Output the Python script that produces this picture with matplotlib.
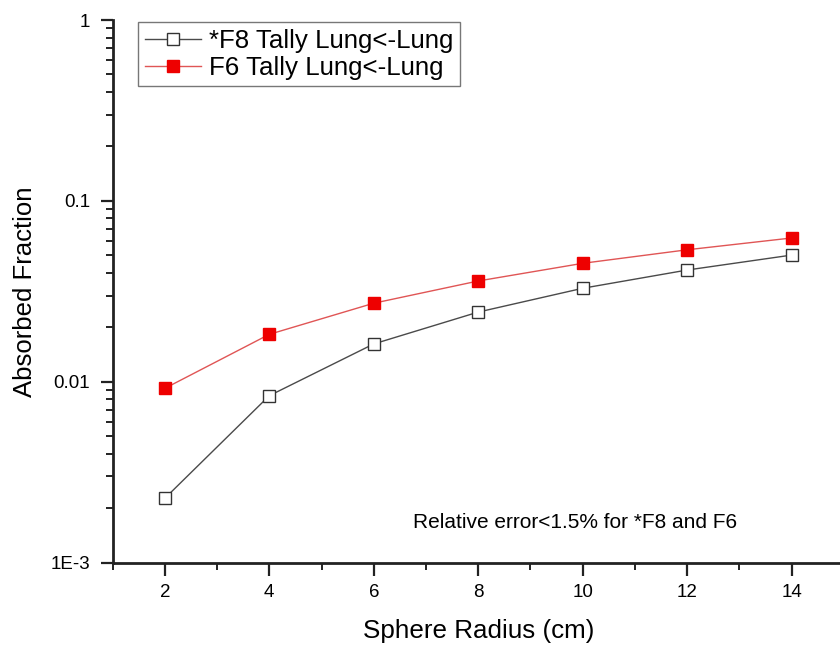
import numpy as np
import matplotlib
matplotlib.use("Agg")
from matplotlib import pyplot as plt
from matplotlib.ticker import FixedLocator, LogLocator, NullFormatter

plt.rcParams['font.family'] = ['Liberation Sans', 'DejaVu Sans']

radius = [2, 4, 6, 8, 10, 12, 14]
f8_lung = [0.00227, 0.00838, 0.0162, 0.0243, 0.0329, 0.0415, 0.0502]
f6_lung = [0.0092, 0.0183, 0.0272, 0.0361, 0.0452, 0.0537, 0.0624]
ytick_vals = [0.001, 0.01, 0.1, 1]
ytick_text = ['1E-3', '0.01', '0.1', '1']

fig = plt.figure(figsize=(8.4, 6.48), dpi=100)
ax = fig.add_axes([0.134, 0.1316, 0.8707, 0.8375])

ax.plot(radius, f8_lung, color='#4a4a4a', lw=1.0, marker='s', ms=8,
        mfc='white', mec='#333333', mew=1.0, label='*F8 Tally Lung<-Lung')
ax.plot(radius, f6_lung, color='#e05555', lw=1.0, marker='s', ms=8,
        mfc='#ee0000', mec='#ee0000', mew=1.0, label='F6 Tally Lung<-Lung')

ax.set_yscale('log')
ax.set_ylim(0.001, 1)
ax.set_xlim(1, 15)
ax.yaxis.set_major_locator(FixedLocator(ytick_vals))
ax.set_yticklabels(ytick_text)
ax.yaxis.set_minor_locator(LogLocator(base=10, subs=np.arange(2, 10)))
ax.yaxis.set_minor_formatter(NullFormatter())
ax.set_xticks(radius)
ax.set_xticks(np.arange(1, 16, 2), minor=True)

for s in ['top', 'right']:
    ax.spines[s].set_visible(False)
for s in ['left', 'bottom']:
    ax.spines[s].set_linewidth(2.0)
    ax.spines[s].set_color('#222222')

ax.tick_params(axis='both', which='major', direction='out', length=9, width=1.6,
               labelsize=13.5, color='#222222')
ax.tick_params(axis='both', which='minor', direction='out', length=5, width=1.4,
               color='#222222')
ax.tick_params(axis='x', which='major', pad=6)
ax.tick_params(axis='y', which='major', pad=7)

ax.set_xlabel('Sphere Radius (cm)', fontsize=18.7, labelpad=13)
ax.set_ylabel('Absorbed Fraction', fontsize=18.5, labelpad=10)

ax.text(9.85, 0.00166, 'Relative error<1.5% for *F8 and F6', fontsize=15,
        ha='center', va='center')

leg = ax.legend(loc='upper left', bbox_to_anchor=(0.035, 0.996), fontsize=18.6,
                frameon=True, fancybox=False, edgecolor='#555555',
                handlelength=2.2, handletextpad=0.3, borderpad=0.25,
                labelspacing=0.12, borderaxespad=0.0)
leg.get_frame().set_linewidth(1.0)

fig.savefig('out.png', dpi=100)
